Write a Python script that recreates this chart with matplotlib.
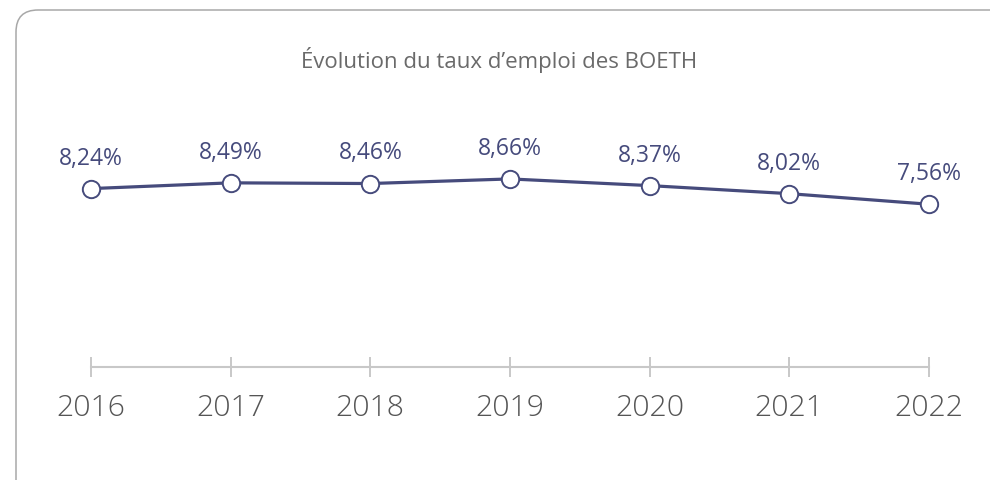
import matplotlib
matplotlib.use("Agg")
import matplotlib.pyplot as plt
from matplotlib.patches import FancyBboxPatch

years = [2016, 2017, 2018, 2019, 2020, 2021, 2022]
rates = [8.24, 8.49, 8.46, 8.66, 8.37, 8.02, 7.56]
labels = ["8,24%", "8,49%", "8,46%", "8,66%", "8,37%", "8,02%", "7,56%"]
title = "Évolution du taux d’emploi des BOETH"

W, H, DPI = 990, 480, 100
navy = "#464b7c"
grey_axis = "#c8c8c8"

plt.rcParams["font.family"] = ["Open Sans", "DejaVu Sans"]

fig = plt.figure(figsize=(W / DPI, H / DPI), dpi=DPI)
fig.patch.set_facecolor("white")

# rounded card frame, running past the right and bottom edges
card = FancyBboxPatch((16, -30), 1010, 480 - 10 + 30,
                      boxstyle="round,pad=0,rounding_size=22",
                      transform=None, facecolor="none",
                      edgecolor="#a8a8a8", linewidth=1.1, zorder=-1)
fig.patches.append(card)

fig.text(499 / W, 1 - 60 / H, title, ha="center", va="center",
         fontsize=16, color="#6a6a6a")

left, right = 91, 929
top, bottom = 100, 366.7
ax = fig.add_axes([left / W, 1 - bottom / H, (right - left) / W, (bottom - top) / H])
ax.set_facecolor("none")
ax.set_xlim(2016, 2022)
ax.set_ylim(0.5, 12.09)

ax.plot(years, rates, color=navy, lw=2.3, zorder=3, clip_on=False,
        marker="o", markersize=12.5, markerfacecolor="white",
        markeredgecolor=navy, markeredgewidth=1.4)

for x, y, t in zip(years, rates, labels):
    ax.annotate(t, (x, y), xytext=(0, 13), textcoords="offset points",
                ha="center", va="bottom", fontsize=16.5, color=navy)

for s in ["top", "left", "right"]:
    ax.spines[s].set_visible(False)
ax.spines["bottom"].set_color(grey_axis)
ax.spines["bottom"].set_linewidth(1.5)
ax.set_yticks([])
ax.set_xticks(years)
ax.set_xticklabels([str(y) for y in years])
ax.tick_params(axis="x", direction="inout", length=14, width=1.4,
               color=grey_axis, pad=12, labelsize=21.7, labelcolor="#555555")
for lab in ax.get_xticklabels():
    lab.set_fontweight("light")

fig.savefig("out.png", dpi=DPI, facecolor="white")
